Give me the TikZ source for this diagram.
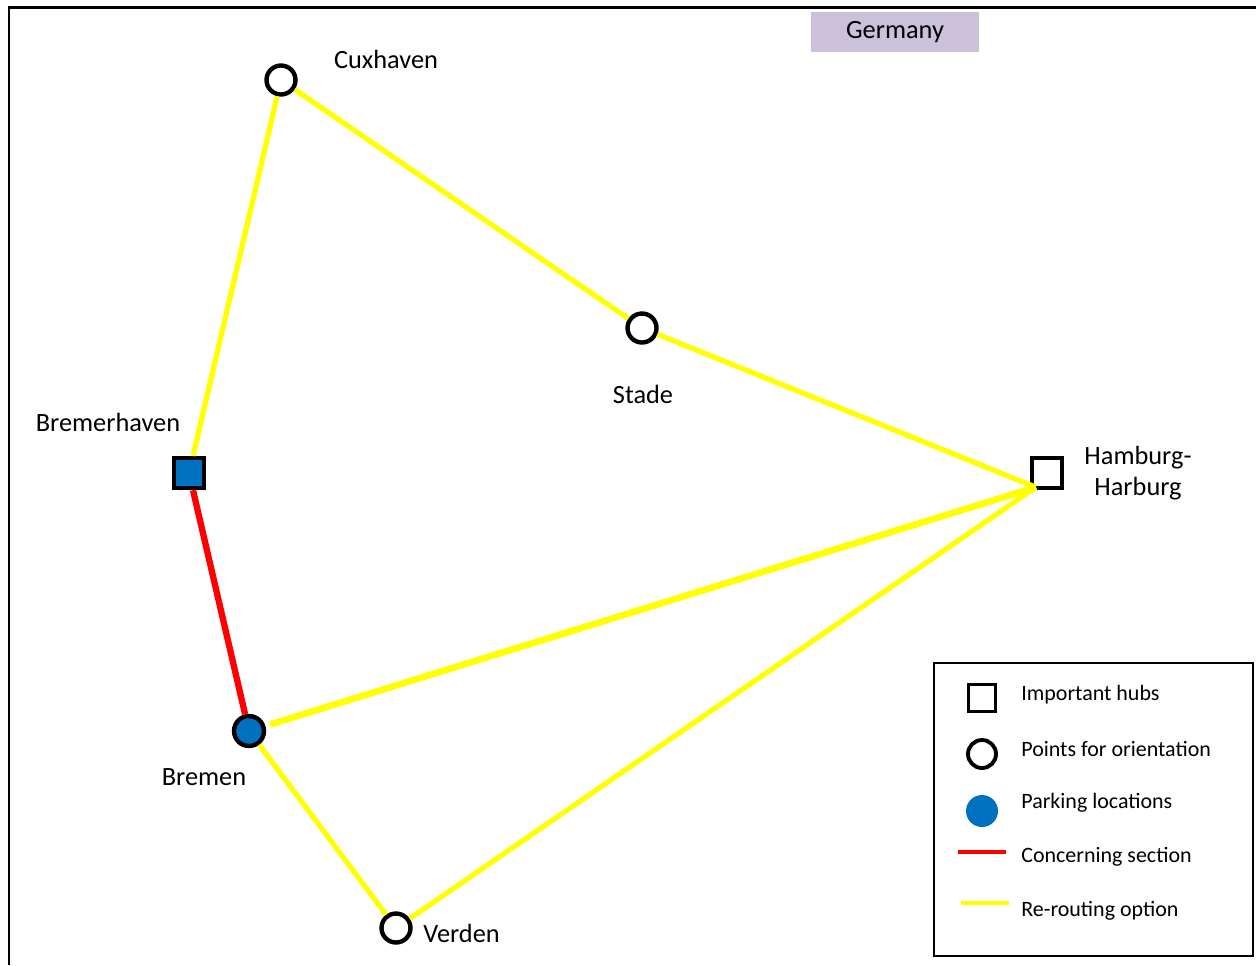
\documentclass[tikz,border=0pt]{standalone}
\usepackage{fontspec}
\setmainfont{Carlito}
\usetikzlibrary{positioning}
\definecolor{hubblue}{RGB}{0,112,192}
\definecolor{tagviolet}{RGB}{204,193,218}
\definecolor{routeyellow}{RGB}{255,255,0}

\begin{document}
\begin{tikzpicture}[x=0.02cm,y=-0.02cm,
	hub/.style={draw,rectangle,line width=2.5pt,minimum size=0.6cm,inner sep=0pt,fill=white},
	spot/.style={draw,circle,line width=2.5pt,minimum size=0.58cm,inner sep=0pt,fill=white},
	place/.style={font=\fontsize{15}{17.5}\selectfont,inner sep=0pt},
	keytext/.style={font=\fontsize{12.5}{15}\selectfont,anchor=west,inner sep=0pt},
	reroute/.style={line width=3pt,routeyellow},
	concern/.style={line width=3.6pt,red}]
	\useasboundingbox (0,0) rectangle (1256,965);
	\draw[line width=1.7pt] (9,965) -- (9,7) -- (1256,7);
	
	\node[fill=tagviolet,minimum width=3.36cm,minimum height=0.8cm,inner sep=0pt,font=\fontsize{15}{18}\selectfont] (germany) at (895,32) {\raisebox{-1.5pt}{Germany}};
	
	\node[spot] (cux) at (281,80) {};
	\node[spot] (stade) at (642,328) {};
	\node[hub,fill=hubblue] (bhv) at (189,473) {};
	\node[spot,fill=hubblue,minimum size=0.6cm] (bremen) at (249,731) {};
	\node[spot] (verden) at (396,928) {};
	\node[hub] (hh) at (1047,473) {};
	\coordinate (hhin) at ([shift={(6,-3)}]hh.south west);
	
	\node[place] (cuxl) at (386,59) {Cuxhaven};
	\node[place] (stadel) at (643,394) {Stade};
	\node[place] (bhvl) at (108,422) {Bremerhaven};
	\node[place] (bremenl) at (204,777) {Bremen};
	\node[place,anchor=west] (verdenl) at (423,933) {Verden};
	\node[place,align=center] (hhl) at (1138,473) {Hamburg-\\Harburg};
	
	\draw[reroute] (cux) -- (bhv);
	\draw[reroute] (cux) -- (stade);
	\draw[reroute] (stade) -- (hhin);
	\draw[reroute,line width=3.8pt,shorten <=0.1cm] (bremen) -- (hhin);
	\draw[reroute] (verden) -- (hhin);
	\draw[reroute] (bremen) -- (verden);
	\draw[concern] (bhv) -- (bremen);
	
	\node[draw,line width=0.8pt,minimum width=6.38cm,minimum height=5.86cm] (key) at (1093.5,809.5) {};
	\node[hub,line width=2.2pt,minimum size=0.54cm] (khub) at (982,698) {};
	\node[spot,line width=2.2pt,minimum size=0.56cm] (kspot) at (982,754) {};
	\node[circle,fill=hubblue,minimum size=0.64cm,inner sep=0pt] (kpark) at (982,811) {};
	\coordinate (kred1) at (958,852);
	\coordinate (kred2) at (1006,852);
	\coordinate (kyel1) at (961,903);
	\coordinate (kyel2) at (1009,903);
	\draw[red,line width=1.8pt] (kred1) -- (kred2);
	\draw[routeyellow,line width=1.8pt] (kyel1) -- (kyel2);
	\node[keytext] (khubl) at (1021,695) {Important hubs};
	\node[keytext] (kspotl) at (1021,749) {Points for orientation};
	\node[keytext] (kparkl) at (1021,803) {Parking locations};
	\node[keytext] (kredl) at (1021,857) {Concerning section};
	\node[keytext] (kyell) at (1021,911) {Re-routing option};
\end{tikzpicture}
\end{document}
